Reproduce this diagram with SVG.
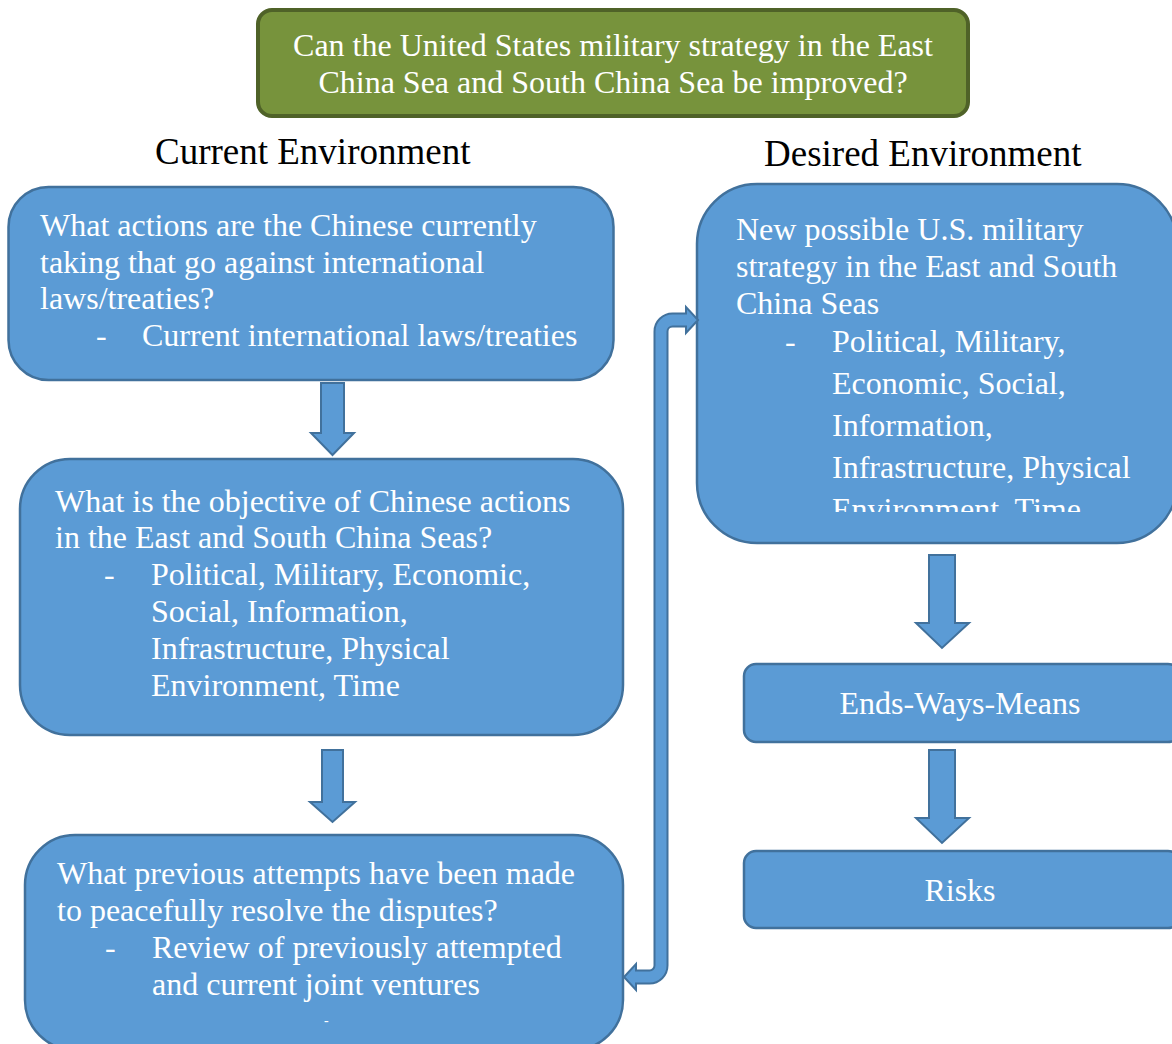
<svg xmlns="http://www.w3.org/2000/svg" width="1172" height="1044" viewBox="0 0 1172 1044">
<style>
.box{fill:#5B9BD5;stroke:#41719C;stroke-width:2.5}
.arr{fill:#5B9BD5;stroke:#41719C;stroke-width:2;stroke-linejoin:miter}
.t{font-family:"Liberation Serif","Times New Roman",serif;font-size:32px;fill:#ffffff}
.h{font-family:"Liberation Serif","Times New Roman",serif;font-size:37px;fill:#000000}
.c{text-anchor:middle}
</style>
<defs>
<clipPath id="clipR"><rect x="697" y="184" width="480" height="328"/></clipPath>
</defs>
<rect width="1172" height="1044" fill="#ffffff"/>

<g id="title">
<rect x="258" y="10" width="710" height="106" rx="14" fill="#77933C" stroke="#4F6228" stroke-width="4"/>
<text class="t c" x="613" y="56">Can the United States military strategy in the East</text>
<text class="t c" x="613" y="93">China Sea and South China Sea be improved?</text>
</g>

<g id="heading-current"><text class="h" x="155" y="164">Current Environment</text></g>
<g id="heading-desired"><text class="h" x="764" y="166">Desired Environment</text></g>

<g id="node-actions">
<rect class="box" x="8.5" y="187" width="605" height="193" rx="40"/>
<text class="t" x="40" y="236">What actions are the Chinese currently</text>
<text class="t" x="40" y="273">taking that go against international</text>
<text class="t" x="40" y="309">laws/treaties?</text>
<text class="t" x="96" y="346">-</text>
<text class="t" x="142" y="346">Current international laws/treaties</text>
</g>

<g id="node-objective">
<rect class="box" x="20" y="459" width="603" height="276" rx="50"/>
<text class="t" x="55" y="512">What is the objective of Chinese actions</text>
<text class="t" x="55" y="548">in the East and South China Seas?</text>
<text class="t" x="104" y="585">-</text>
<text class="t" x="151" y="585">Political, Military, Economic,</text>
<text class="t" x="151" y="622">Social, Information,</text>
<text class="t" x="151" y="659">Infrastructure, Physical</text>
<text class="t" x="151" y="696">Environment, Time</text>
</g>

<g id="node-attempts">
<rect class="box" x="25" y="835" width="598" height="215" rx="50"/>
<text class="t" x="57" y="884">What previous attempts have been made</text>
<text class="t" x="57" y="921">to peacefully resolve the disputes?</text>
<text class="t" x="105" y="958">-</text>
<text class="t" x="152" y="958">Review of previously attempted</text>
<text class="t" x="152" y="995">and current joint ventures</text>
<text class="t" x="324" y="1025" style="font-size:14px">-</text>
</g>

<g id="node-strategy">
<rect class="box" x="697" y="184" width="480" height="359" rx="60"/>
<g clip-path="url(#clipR)">
<text class="t" x="736" y="240">New possible U.S. military</text>
<text class="t" x="736" y="277">strategy in the East and South</text>
<text class="t" x="736" y="314">China Seas</text>
<text class="t" x="785" y="352">-</text>
<text class="t" x="832" y="352">Political, Military,</text>
<text class="t" x="832" y="394">Economic, Social,</text>
<text class="t" x="832" y="436">Information,</text>
<text class="t" x="832" y="478">Infrastructure, Physical</text>
<text class="t" x="832" y="520">Environment, Time</text>
</g>
</g>

<g id="node-ewm">
<rect class="box" x="744" y="664" width="436" height="78" rx="12"/>
<text class="t c" x="960" y="714">Ends-Ways-Means</text>
</g>

<g id="node-risks">
<rect class="box" x="744" y="851" width="436" height="77" rx="12"/>
<text class="t c" x="960" y="901">Risks</text>
</g>

<g id="connectors">
<polygon class="arr" points="321,383 344,383 344,433 354,433 332.5,455 311,433 321,433"/>
<polygon class="arr" points="322,750 343,750 343,802 355,802 332.5,822 310,802 322,802"/>
<polygon class="arr" points="929,555 955,555 955,623 969,623 942,648 916,623 929,623"/>
<polygon class="arr" points="929,750 955,750 955,818 969,818 942,843 916,818 929,818"/>
<path class="arr" d="M698,320 L686,333 L686,326.5 L672.5,326.5 A5,5 0 0 0 667.5,331.5 L667.5,965.5 A18,18 0 0 1 649.5,983.5 L636,983.5 L636,990 L624,977 L636,964 L636,970.5 L649.5,970.5 A5,5 0 0 0 654.5,965.5 L654.5,331.5 A18,18 0 0 1 672.5,313.5 L686,313.5 L686,307 Z"/>
</g>
</svg>
